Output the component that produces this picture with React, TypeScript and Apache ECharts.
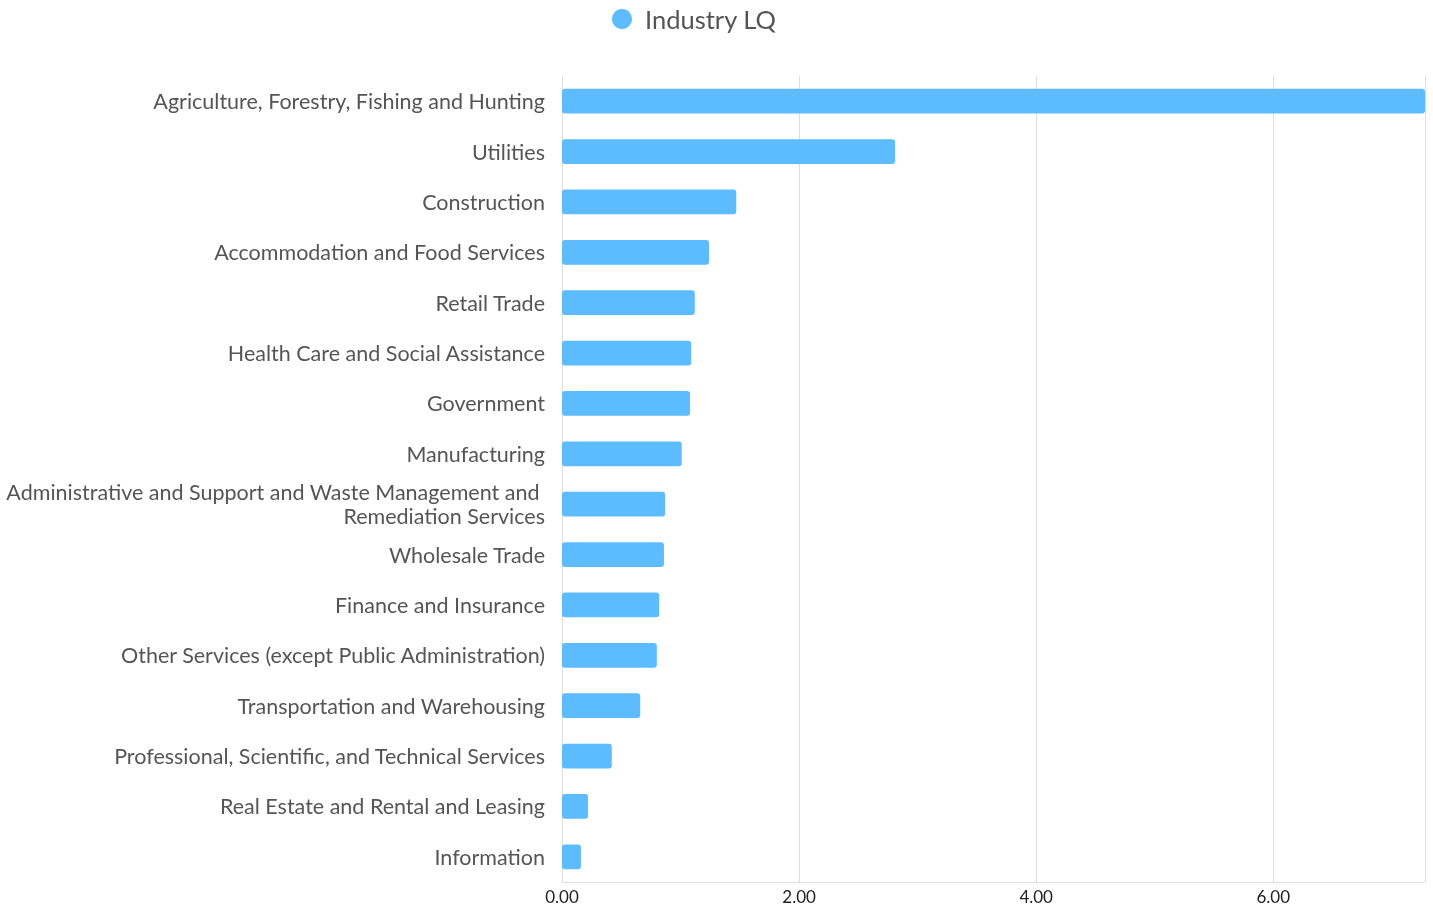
import React, { useEffect, useRef } from "react";
import * as echarts from "echarts";

const categories = [
  "Agriculture, Forestry, Fishing and Hunting",
  "Utilities",
  "Construction",
  "Accommodation and Food Services",
  "Retail Trade",
  "Health Care and Social Assistance",
  "Government",
  "Manufacturing",
  "Administrative and Support and Waste Management and Remediation Services",
  "Wholesale Trade",
  "Finance and Insurance",
  "Other Services (except Public Administration)",
  "Transportation and Warehousing",
  "Professional, Scientific, and Technical Services",
  "Real Estate and Rental and Leasing",
  "Information",
];

const lqValues = [7.28, 2.81, 1.47, 1.24, 1.12, 1.09, 1.08, 1.01, 0.87, 0.86, 0.82, 0.8, 0.66, 0.42, 0.22, 0.16];

const seriesName = "Industry LQ";

export default function App() {
  const ref = useRef<HTMLDivElement>(null);
  useEffect(() => {
    if (!ref.current) return;
    const chart = echarts.init(ref.current, undefined, { renderer: "svg" });
    chart.setOption({
      animation: false,
      textStyle: { fontFamily: "Lato" },
      legend: {
        data: [seriesName],
        top: 1,
        left: 607,
        icon: "circle",
        itemWidth: 20,
        itemHeight: 20,
        textStyle: { fontSize: 25.5, color: "#555", fontFamily: "Lato", padding: [0, 0, 0, 8] },
      },
      grid: { left: 562, right: 8, top: 76, bottom: 25, outerBoundsMode: "none", containLabel: false },
      xAxis: {
        type: "value",
        min: 0,
        max: "dataMax",
        interval: 2,
        axisLine: { show: true, lineStyle: { color: "#ddd" } },
        axisTick: { show: false },
        splitLine: { show: true, lineStyle: { color: "#ddd" } },
        axisLabel: {
          formatter: (v: number) => v.toFixed(2),
          fontSize: 17,
          color: "#222",
          margin: 6,
          showMaxLabel: false,
          fontFamily: "Lato",
        },
      },
      yAxis: {
        type: "category",
        inverse: true,
        data: categories,
        axisLine: { show: true, lineStyle: { color: "#ddd" } },
        axisTick: { show: false },
        axisLabel: {
          fontSize: 21.5,
          color: "#555",
          margin: 17,
          width: 545,
          overflow: "break",
          lineHeight: 24,
          fontFamily: "Lato",
        },
      },
      series: [
        {
          name: seriesName,
          type: "bar",
          data: lqValues,
          barWidth: "49%",
          itemStyle: { color: "#5cbcff", borderRadius: 3 },
        },
      ],
    });
    return () => chart.dispose();
  }, []);
  return (
    <div
      ref={ref}
      style={{ position: "fixed", left: 0, top: 0, width: 1433, height: 907 }}
    />
  );
}
